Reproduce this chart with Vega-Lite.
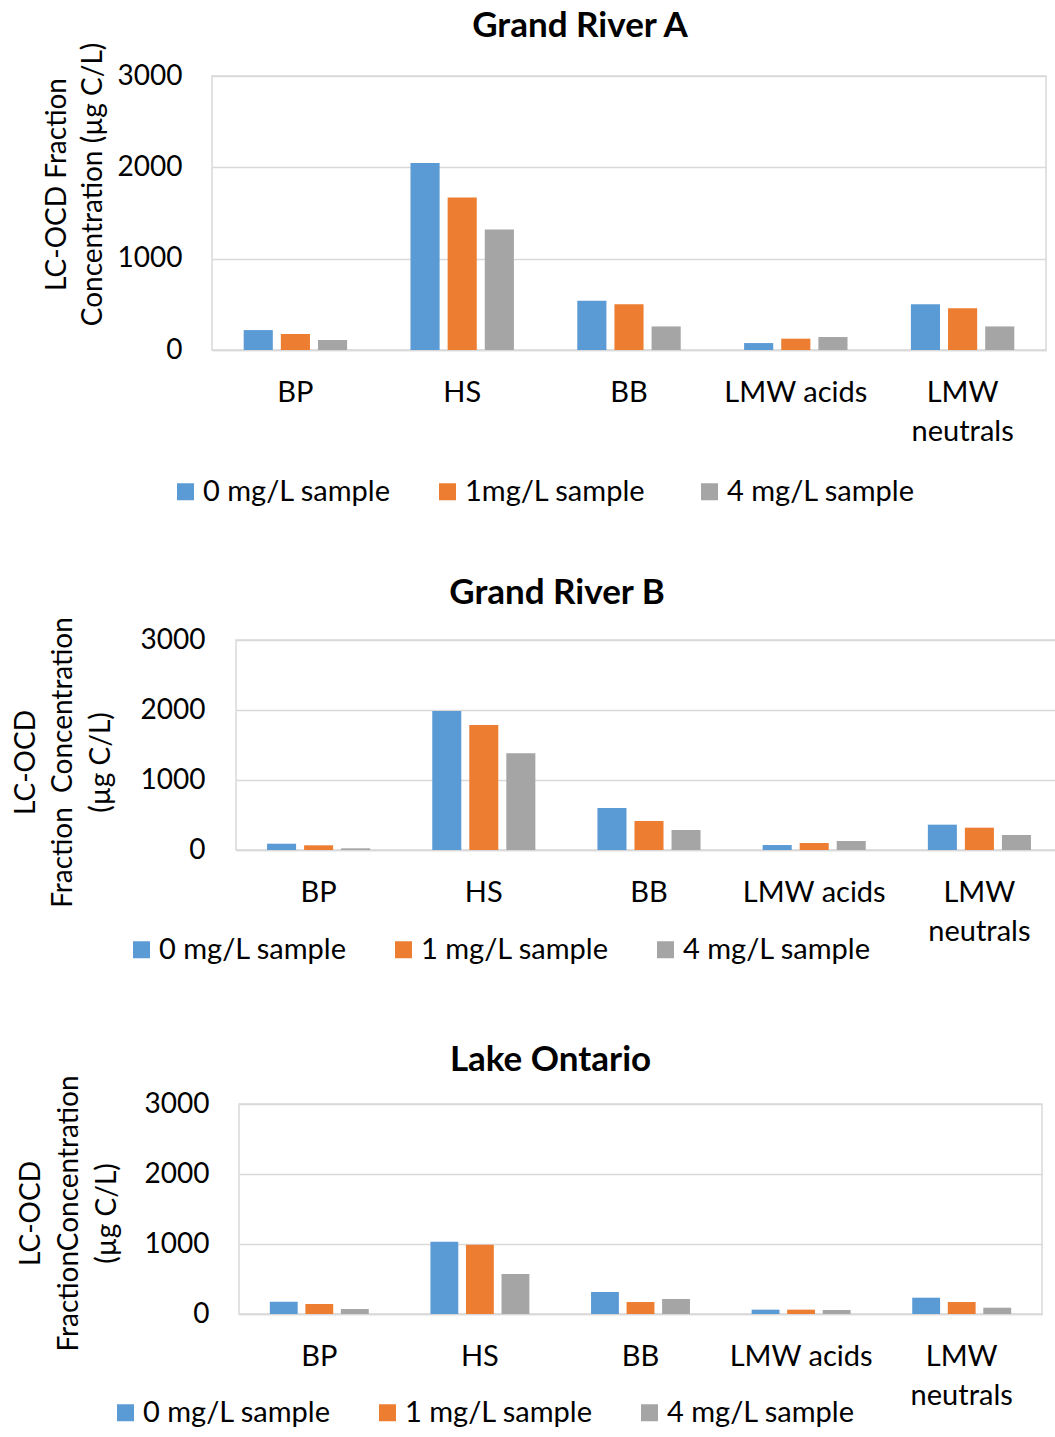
{
  "$schema": "https://vega.github.io/schema/vega-lite/v6.json",
  "padding": {"left": 0, "top": 8, "right": 0, "bottom": 0},
  "background": "white",
  "config": {
    "font": "Lato",
    "view": {"stroke": "#d9d9d9", "strokeWidth": 1.5},
    "axis": {"labelFont": "Lato", "titleFont": "Lato", "labelColor": "#000", "titleColor": "#000", "ticks": false, "tickSize": 0, "domain": false, "gridColor": "#d9d9d9", "gridWidth": 1.5, "labelFontSize": 28, "titleFontSize": 28, "titleFontWeight": "normal", "titleLimit": 1000, "labelLimit": 400},
    "axisX": {"domain": true, "domainColor": "#d9d9d9", "domainWidth": 1.5, "grid": false, "labelAngle": 0, "labelPadding": 28, "labelLineHeight": 39, "labelFontSize": 29},
    "legend": {"orient": "none", "direction": "horizontal", "columns": 3, "symbolType": "square", "symbolSize": 289, "symbolStrokeWidth": 0, "labelFont": "Lato", "labelFontSize": 29, "labelColor": "#000", "labelLimit": 500, "labelOffset": 3, "columnPadding": 42, "gridAlign": "all", "padding": 0},
    "title": {"font": "Lato", "fontSize": 35, "fontWeight": "bold", "color": "#000", "anchor": "middle", "baseline": "alphabetic"},
    "bar": {"strokeWidth": 0}
  },
  "datasets": {
    "a": [
      {"fraction": "BP", "sample": "0 mg/L sample", "value": 218},
      {"fraction": "BP", "sample": "\u00a0\u00a01mg/L sample", "value": 175},
      {"fraction": "BP", "sample": "4 mg/L sample", "value": 109},
      {"fraction": "HS", "sample": "0 mg/L sample", "value": 2047},
      {"fraction": "HS", "sample": "\u00a0\u00a01mg/L sample", "value": 1669},
      {"fraction": "HS", "sample": "4 mg/L sample", "value": 1320},
      {"fraction": "BB", "sample": "0 mg/L sample", "value": 538},
      {"fraction": "BB", "sample": "\u00a0\u00a01mg/L sample", "value": 502},
      {"fraction": "BB", "sample": "4 mg/L sample", "value": 258},
      {"fraction": "LMW acids", "sample": "0 mg/L sample", "value": 76},
      {"fraction": "LMW acids", "sample": "\u00a0\u00a01mg/L sample", "value": 124},
      {"fraction": "LMW acids", "sample": "4 mg/L sample", "value": 142},
      {"fraction": "LMW neutrals", "sample": "0 mg/L sample", "value": 502},
      {"fraction": "LMW neutrals", "sample": "\u00a0\u00a01mg/L sample", "value": 458},
      {"fraction": "LMW neutrals", "sample": "4 mg/L sample", "value": 258}
    ],
    "b": [
      {"fraction": "BP", "sample": "0 mg/L sample", "value": 90},
      {"fraction": "BP", "sample": "1 mg/L sample", "value": 67},
      {"fraction": "BP", "sample": "4 mg/L sample", "value": 24},
      {"fraction": "HS", "sample": "0 mg/L sample", "value": 1986},
      {"fraction": "HS", "sample": "1 mg/L sample", "value": 1786},
      {"fraction": "HS", "sample": "4 mg/L sample", "value": 1381},
      {"fraction": "BB", "sample": "0 mg/L sample", "value": 600},
      {"fraction": "BB", "sample": "1 mg/L sample", "value": 414},
      {"fraction": "BB", "sample": "4 mg/L sample", "value": 286},
      {"fraction": "LMW acids", "sample": "0 mg/L sample", "value": 71},
      {"fraction": "LMW acids", "sample": "1 mg/L sample", "value": 100},
      {"fraction": "LMW acids", "sample": "4 mg/L sample", "value": 129},
      {"fraction": "LMW neutrals", "sample": "0 mg/L sample", "value": 362},
      {"fraction": "LMW neutrals", "sample": "1 mg/L sample", "value": 319},
      {"fraction": "LMW neutrals", "sample": "4 mg/L sample", "value": 214}
    ],
    "c": [
      {"fraction": "BP", "sample": "0 mg/L sample", "value": 176},
      {"fraction": "BP", "sample": "1 mg/L sample", "value": 143},
      {"fraction": "BP", "sample": "4 mg/L sample", "value": 71},
      {"fraction": "HS", "sample": "0 mg/L sample", "value": 1031},
      {"fraction": "HS", "sample": "1 mg/L sample", "value": 988},
      {"fraction": "HS", "sample": "4 mg/L sample", "value": 570},
      {"fraction": "BB", "sample": "0 mg/L sample", "value": 314},
      {"fraction": "BB", "sample": "1 mg/L sample", "value": 171},
      {"fraction": "BB", "sample": "4 mg/L sample", "value": 214},
      {"fraction": "LMW acids", "sample": "0 mg/L sample", "value": 62},
      {"fraction": "LMW acids", "sample": "1 mg/L sample", "value": 62},
      {"fraction": "LMW acids", "sample": "4 mg/L sample", "value": 57},
      {"fraction": "LMW neutrals", "sample": "0 mg/L sample", "value": 233},
      {"fraction": "LMW neutrals", "sample": "1 mg/L sample", "value": 171},
      {"fraction": "LMW neutrals", "sample": "4 mg/L sample", "value": 90}
    ]
  },
  "resolve": {"scale": {"color": "independent", "xOffset": "independent", "x": "independent", "y": "independent"}, "legend": {"color": "independent"}},
  "spacing": 66,
  "vconcat": [
    {
      "spacing": 0,
      "resolve": {"scale": {"color": "independent", "xOffset": "independent"}, "legend": {"color": "independent"}},
      "hconcat": [
        {"width": 42, "height": 10, "data": {"values": [{}]}, "mark": {"type": "point", "opacity": 0}, "view": {"stroke": null}},
        {
          "title": {"text": "Grand River A", "dx": -49, "offset": -2},
          "width": 834, "height": 274,
          "data": {"name": "a"},
          "mark": {"type": "bar"},
          "encoding": {
            "x": {"field": "fraction", "type": "nominal", "sort": ["BP", "HS", "BB", "LMW acids", "LMW neutrals"], "scale": {"paddingInner": 0.38, "paddingOuter": 0.19}, "axis": {"title": null, "labelExpr": "datum.label == 'LMW neutrals' ? ['LMW', 'neutrals'] : datum.label"}},
            "xOffset": {"field": "sample", "type": "nominal", "sort": ["0 mg/L sample", "\u00a0\u00a01mg/L sample", "4 mg/L sample"], "scale": {"paddingInner": 0.216, "paddingOuter": 0}},
            "y": {"field": "value", "type": "quantitative", "scale": {"domain": [0, 3000], "nice": false}, "axis": {"title": ["LC-OCD Fraction", "Concentration (µg C/L)"], "format": "d", "values": [0, 1000, 2000, 3000], "labelPadding": 30, "titlePadding": 10, "titleY": 108, "titleLineHeight": 36}},
            "color": {"field": "sample", "type": "nominal", "scale": {"domain": ["0 mg/L sample", "\u00a0\u00a01mg/L sample", "4 mg/L sample"], "range": ["#5B9BD5", "#ED7D31", "#A5A5A5"]}, "legend": {"title": null, "legendX": -41, "legendY": 401}}
          }
        }
      ]
    },
    {
      "spacing": 0,
      "resolve": {"scale": {"color": "independent", "xOffset": "independent"}, "legend": {"color": "independent"}},
      "hconcat": [
        {"width": 11, "height": 10, "data": {"values": [{}]}, "mark": {"type": "point", "opacity": 0}, "view": {"stroke": null}},
        {
          "title": {"text": "Grand River B", "dx": -92, "offset": 6},
          "width": 826, "height": 210,
          "data": {"name": "b"},
          "mark": {"type": "bar"},
          "encoding": {
            "x": {"field": "fraction", "type": "nominal", "sort": ["BP", "HS", "BB", "LMW acids", "LMW neutrals"], "scale": {"paddingInner": 0.376, "paddingOuter": 0.188}, "axis": {"title": null, "labelExpr": "datum.label == 'LMW neutrals' ? ['LMW', 'neutrals'] : datum.label"}},
            "xOffset": {"field": "sample", "type": "nominal", "sort": ["0 mg/L sample", "1 mg/L sample", "4 mg/L sample"], "scale": {"paddingInner": 0.216, "paddingOuter": 0}},
            "y": {"field": "value", "type": "quantitative", "scale": {"domain": [0, 3000], "nice": false}, "axis": {"title": ["LC-OCD", "Fraction\u00a0 Concentration", "(µg C/L)"], "format": "d", "values": [0, 1000, 2000, 3000], "labelPadding": 31, "titlePadding": 25, "titleY": 122, "titleLineHeight": 37.5}},
            "color": {"field": "sample", "type": "nominal", "scale": {"domain": ["0 mg/L sample", "1 mg/L sample", "4 mg/L sample"], "range": ["#5B9BD5", "#ED7D31", "#A5A5A5"]}, "legend": {"title": null, "legendX": -119, "legendY": 285, "padding": 10}}
          }
        }
      ]
    },
    {
      "spacing": 0,
      "resolve": {"scale": {"color": "independent", "xOffset": "independent"}, "legend": {"color": "independent"}},
      "hconcat": [
        {"width": 16, "height": 10, "data": {"values": [{}]}, "mark": {"type": "point", "opacity": 0}, "view": {"stroke": null}},
        {
          "title": {"text": "Lake Ontario", "dx": -90, "offset": -3},
          "width": 803, "height": 210,
          "data": {"name": "c"},
          "mark": {"type": "bar"},
          "encoding": {
            "x": {"field": "fraction", "type": "nominal", "sort": ["BP", "HS", "BB", "LMW acids", "LMW neutrals"], "scale": {"paddingInner": 0.384, "paddingOuter": 0.192}, "axis": {"title": null, "labelExpr": "datum.label == 'LMW neutrals' ? ['LMW', 'neutrals'] : datum.label"}},
            "xOffset": {"field": "sample", "type": "nominal", "sort": ["0 mg/L sample", "1 mg/L sample", "4 mg/L sample"], "scale": {"paddingInner": 0.216, "paddingOuter": 0}},
            "y": {"field": "value", "type": "quantitative", "scale": {"domain": [0, 3000], "nice": false}, "axis": {"title": ["LC-OCD", "FractionConcentration", "(µg C/L)"], "format": "d", "values": [0, 1000, 2000, 3000], "labelPadding": 30, "titlePadding": 23, "titleY": 109, "titleLineHeight": 38}},
            "color": {"field": "sample", "type": "nominal", "scale": {"domain": ["0 mg/L sample", "1 mg/L sample", "4 mg/L sample"], "range": ["#5B9BD5", "#ED7D31", "#A5A5A5"]}, "legend": {"title": null, "legendX": -128, "legendY": 294}}
          }
        }
      ]
    }
  ]
}
